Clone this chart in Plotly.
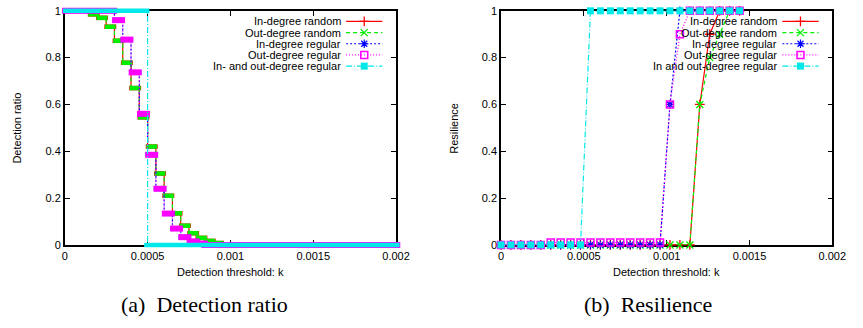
import plotly.graph_objects as go

W, H = 863, 328

# ---------------- data: (a) detection ratio (plateau start k, ratio) ----------------
det_k_random = [0, 0.00015, 0.0002, 0.00025, 0.0003, 0.00035, 0.0004, 0.00045, 0.0005,
                0.00055, 0.0006, 0.00065, 0.0007, 0.00075, 0.0008, 0.00085, 0.0009,
                0.00095, 0.001]
det_in_random = [1, 0.985, 0.97, 0.932, 0.872, 0.778, 0.67, 0.545, 0.42, 0.305, 0.21,
                 0.135, 0.082, 0.05, 0.03, 0.017, 0.008, 0.003, 0]
det_out_random = [1, 0.985, 0.97, 0.932, 0.872, 0.778, 0.67, 0.545, 0.42, 0.305, 0.21,
                  0.135, 0.082, 0.05, 0.03, 0.017, 0.008, 0.003, 0]
det_k_regular = [0, 0.0003, 0.00035, 0.0004, 0.00045, 0.0005, 0.00055, 0.0006, 0.00065,
                 0.0007, 0.00075, 0.0008, 0.00085]
det_in_regular = [1, 0.96, 0.877, 0.737, 0.56, 0.385, 0.24, 0.134, 0.07, 0.033, 0.015,
                  0.006, 0]
det_out_regular = [1, 0.96, 0.877, 0.737, 0.56, 0.385, 0.24, 0.134, 0.07, 0.033, 0.015,
                   0.006, 0]
det_k_both = [0, 0.0005]
det_both_regular = [1, 0]
det_k_end = 0.002

# ---------------- data: (b) resilience ----------------
res_k = [0, 0.00006, 0.00012, 0.00018, 0.00024, 0.0003, 0.00036, 0.00042, 0.00048,
         0.00054, 0.0006, 0.00066, 0.00072, 0.00078, 0.00084, 0.0009, 0.00096, 0.00102,
         0.00108, 0.00114, 0.0012, 0.00126, 0.00132, 0.00138, 0.00144]
res_in_random = [0, 0, 0, 0, 0, 0, 0, 0, 0, 0, 0, 0, 0, 0, 0, 0, 0, 0, 0, 0,
                 0.6, 0.9, 1, 1, 1]
res_out_random = [0, 0, 0, 0, 0, 0, 0, 0, 0, 0, 0, 0, 0, 0, 0, 0, 0, 0, 0, 0,
                  0.6, 0.8, 0.9, 1, 1]
res_in_regular = [0, 0, 0, 0, 0, 0, 0, 0, 0, 0, 0, 0, 0, 0, 0, 0, 0, 0.6,
                  1, 1, 1, 1, 1, 1, 1]
res_out_regular = [0, 0, 0, 0, 0, 0.01, 0.01, 0.01, 0.01, 0.01, 0.01, 0.01, 0.01, 0.01,
                   0.01, 0.01, 0.01, 0.6, 0.9, 1, 1, 1, 1, 1, 1]
res_both_regular = [0, 0, 0, 0, 0, 0, 0, 0, 0, 1, 1, 1, 1, 1, 1, 1, 1, 1, 1, 1,
                    1, 1, 1, 1, 1]

labels_a = ["In-degree random", "Out-degree random", "In-degree regular",
            "Out-degree regular", "In- and out-degree regular"]
labels_b = ["In-degree random", "Out-degree random", "In-degree regular",
            "Out-degree regular", "In and out-degree regular"]
k_ticks = [0, 0.0005, 0.001, 0.0015, 0.002]
k_ticktext = ["0", "0.0005", "0.001", "0.0015", "0.002"]
y_ticks = [0, 0.2, 0.4, 0.6, 0.8, 1]
y_ticktext = ["0", "0.2", "0.4", "0.6", "0.8", "1"]

# ---------------- styles ----------------
styles = [
    dict(color="#ff0000", dash="solid", symbol="cross-thin-open", msize=7, mlw=1.3, bar=4.5, ext=3.5),
    dict(color="#00ee00", dash="4px,3px", symbol="x-thin-open", msize=7, mlw=1.3, bar=4.5, ext=2.5),
    dict(color="#0000ff", dash="2px,2px", symbol="asterisk-open", msize=7, mlw=1.2, bar=5, ext=4),
    dict(color="#ff00ff", dash="1px,2px", symbol="square-open", msize=7, mlw=1.5, bar=6, ext=4.5),
    dict(color="#00e8e8", dash="6px,2px,1px,2px", symbol="square", msize=7, mlw=0, bar=4.5, ext=2),
]

FONT = "Liberation Sans, Arial, sans-serif"
# plot areas in pixels
A_L, A_R, B_L, B_R = 63, 401, 508, 846
TOP, BOT = 5, 248
ppu = (A_R - A_L) / (k_ticks[-1] - k_ticks[0])   # pixels per k unit
LINE_EW = 1.4   # plotly's line-ew marker length = 1.4 * size

fig = go.Figure()

det_series = [
    (det_k_random, det_in_random),
    (det_k_random, det_out_random),
    (det_k_regular, det_in_regular),
    (det_k_regular, det_out_regular),
    (det_k_both, det_both_regular),
]
for (ks, vs), st in zip(det_series, styles):
    xs = list(ks) + [det_k_end]
    ys = list(vs) + [vs[-1]]
    fig.add_trace(go.Scatter(x=xs, y=ys, mode="lines", line_shape="hv",
                             line=dict(color=st["color"], width=1.2, dash=st["dash"]),
                             xaxis="x", yaxis="y", showlegend=False, hoverinfo="skip"))
    ends = list(ks[1:]) + [det_k_end]
    cx = [(a + b) / 2 for a, b in zip(ks, ends)]
    sz = [((b - a) * ppu + st["ext"]) / LINE_EW for a, b in zip(ks, ends)]
    fig.add_trace(go.Scatter(x=cx, y=list(vs), mode="markers", cliponaxis=False,
                             marker=dict(symbol="line-ew-open", size=sz, color=st["color"],
                                         opacity=1,
                                         line=dict(width=st["bar"], color=st["color"])),
                             xaxis="x", yaxis="y", showlegend=False, hoverinfo="skip"))

res_series = [res_in_random, res_out_random, res_in_regular, res_out_regular, res_both_regular]
for vs, st in zip(res_series, styles):
    fig.add_trace(go.Scatter(x=res_k, y=vs, mode="lines+markers", cliponaxis=False,
                             line=dict(color=st["color"], width=1.2, dash=st["dash"]),
                             marker=dict(symbol=st["symbol"], size=st["msize"], color=st["color"],
                                         opacity=1,
                                         line=dict(width=st["mlw"], color=st["color"])),
                             xaxis="x2", yaxis="y2", showlegend=False, hoverinfo="skip"))

# ---------------- gnuplot-style keys (text right, sample on right) ----------------
annotations = []
row_y0, row_dy = 16, 11.6
for (txt_right, s0, s1, labels) in [(346.5, 350, 387, labels_a), (792, 795, 832, labels_b)]:
    for i, (lab, st) in enumerate(zip(labels, styles)):
        yy = row_y0 + i * row_dy
        annotations.append(dict(x=txt_right, y=yy, xref="x3", yref="y3", text=lab,
                                showarrow=False, xanchor="right", yanchor="middle",
                                font=dict(family=FONT, size=11, color="black")))
        fig.add_trace(go.Scatter(x=[s0, (s0 + s1) / 2, s1], y=[yy, yy, yy],
                                 mode="lines+markers", cliponaxis=False,
                                 line=dict(color=st["color"], width=1.2, dash=st["dash"]),
                                 marker=dict(symbol=st["symbol"], size=[0, st["msize"], 0],
                                             color=st["color"], opacity=1,
                                             line=dict(width=st["mlw"], color=st["color"])),
                                 xaxis="x3", yaxis="y3", showlegend=False, hoverinfo="skip"))

SERIF = "Liberation Serif, Times New Roman, serif"
# axis titles and captions
annotations += [
    dict(x=(A_L + A_R) / 2, y=276, xref="x3", yref="y3", text="Detection threshold: k",
         showarrow=False, font=dict(family=FONT, size=11, color="black")),
    dict(x=(B_L + B_R) / 2, y=276, xref="x3", yref="y3", text="Detection threshold: k",
         showarrow=False, font=dict(family=FONT, size=11, color="black")),
    dict(x=14, y=(TOP + BOT) / 2, xref="x3", yref="y3", text="Detection ratio", textangle=-90,
         showarrow=False, font=dict(family=FONT, size=11, color="black")),
    dict(x=460, y=(TOP + BOT) / 2, xref="x3", yref="y3", text="Resilience", textangle=-90,
         showarrow=False, font=dict(family=FONT, size=11, color="black")),
    dict(x=205.5, y=310, xref="x3", yref="y3", text="(a)  Detection ratio",
         showarrow=False, font=dict(family=SERIF, size=22, color="black")),
    dict(x=657.5, y=310, xref="x3", yref="y3", text="(b)  Resilience",
         showarrow=False, font=dict(family=SERIF, size=22, color="black")),
]

axis_common = dict(showline=True, linecolor="black", linewidth=1.5, mirror="ticks",
                   ticks="inside", ticklen=5, tickwidth=1.2, tickcolor="black",
                   showgrid=False, zeroline=False, layer="below traces",
                   ticklabeloverflow="allow",
                   tickfont=dict(family=FONT, size=11, color="black"), fixedrange=True)
ydom = [1 - BOT / H, 1 - TOP / H]
fig.update_layout(
    width=W, height=H, margin=dict(l=0, r=0, t=0, b=0),
    paper_bgcolor="white", plot_bgcolor="rgba(0,0,0,0)", showlegend=False,
    xaxis=dict(domain=[A_L / W, A_R / W], range=[0, 0.002], tickvals=k_ticks,
               ticktext=k_ticktext, anchor="y", **axis_common),
    yaxis=dict(domain=ydom, range=[0, 1], tickvals=y_ticks, ticktext=y_ticktext,
               anchor="x", **axis_common),
    xaxis2=dict(domain=[B_L / W, B_R / W], range=[0, 0.002], tickvals=k_ticks,
                ticktext=k_ticktext, anchor="y2", **axis_common),
    yaxis2=dict(domain=ydom, range=[0, 1], tickvals=y_ticks, ticktext=y_ticktext,
                anchor="x2", **axis_common),
    xaxis3=dict(domain=[0, 1], range=[0, W], visible=False, anchor="y3", fixedrange=True),
    yaxis3=dict(domain=[0, 1], range=[H, 0], visible=False, anchor="x3", fixedrange=True),
    annotations=annotations,
)

fig.write_html("out.html", config=dict(displayModeBar=False))
